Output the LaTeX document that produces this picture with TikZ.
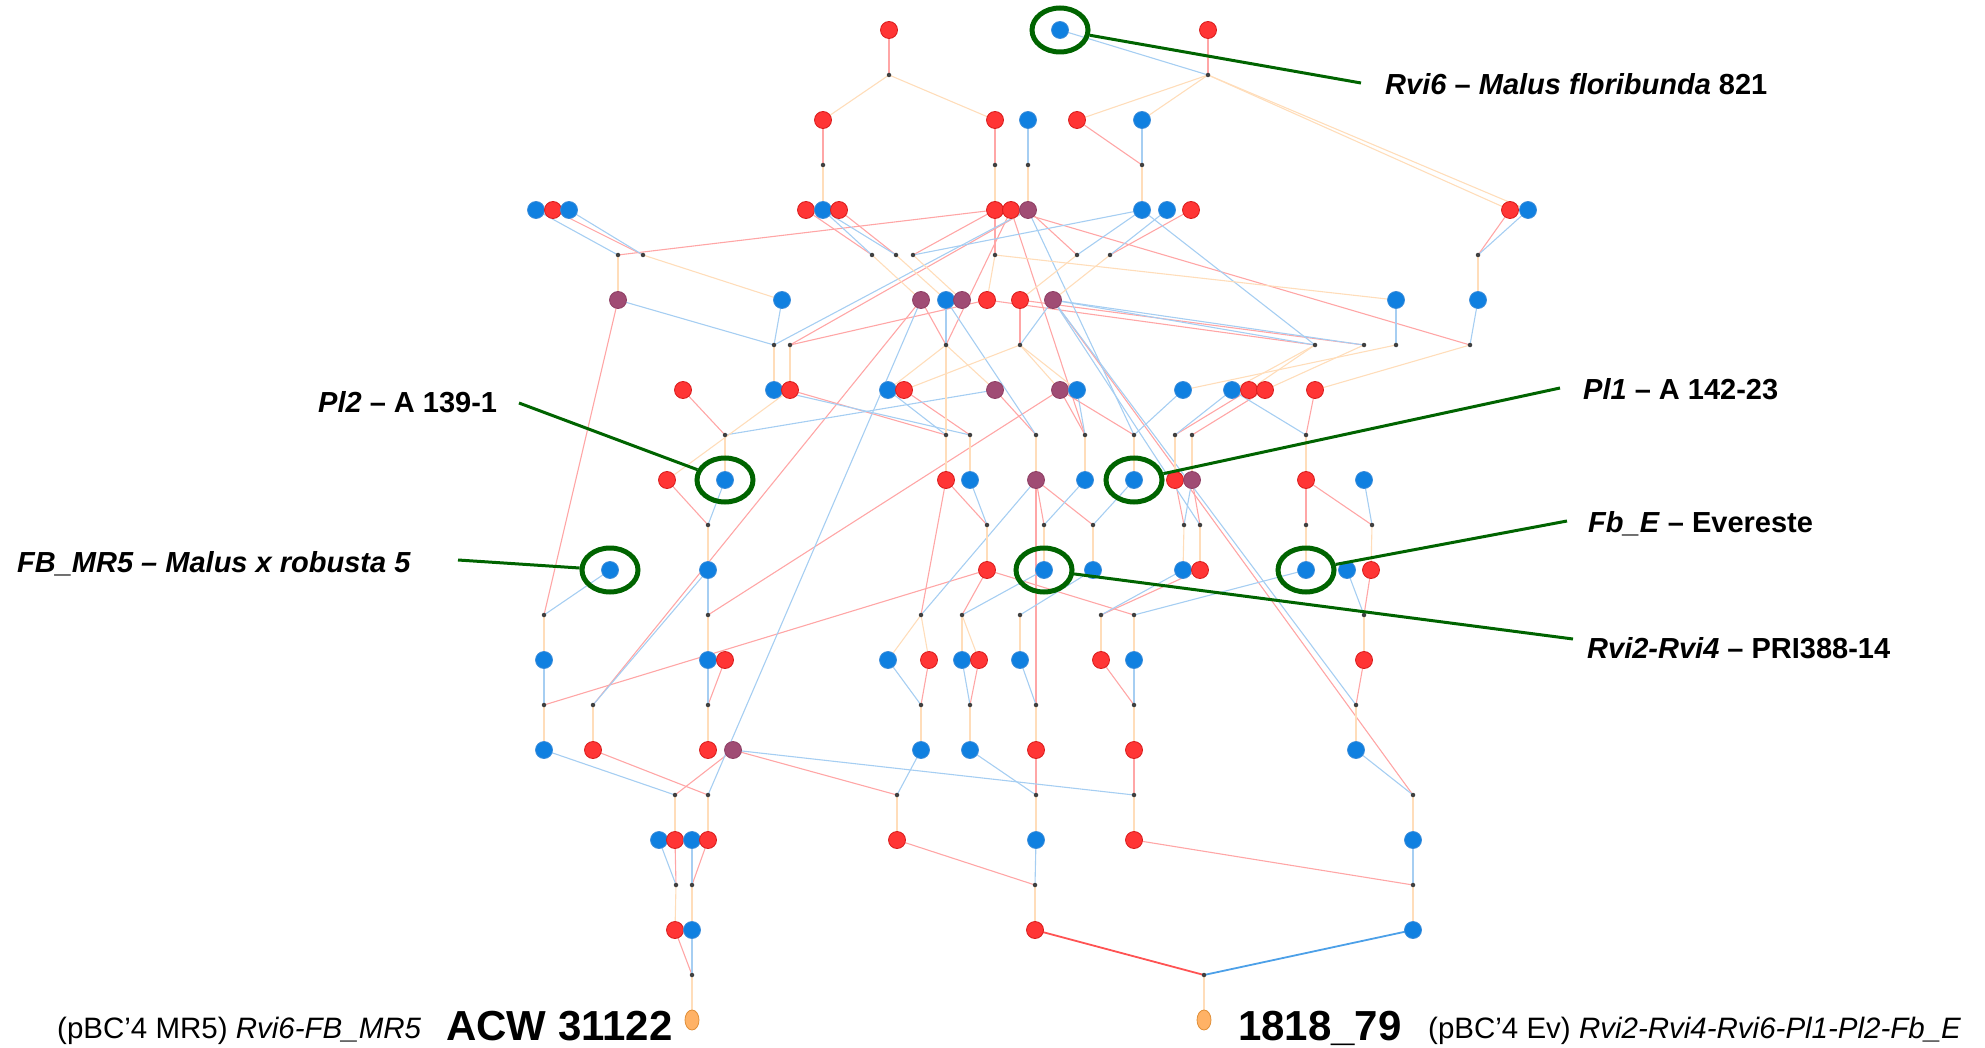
\documentclass[tikz,border=0pt]{standalone}
\usepackage{fontspec}
\setmainfont{Liberation Sans}
\usetikzlibrary{shapes.geometric}
\pgfdeclarelayer{background}
\pgfsetlayers{background,main}
\definecolor{cR}{HTML}{FF3535}
\definecolor{cRd}{HTML}{D81C1C}
\definecolor{cB}{HTML}{1080E0}
\definecolor{cBd}{HTML}{3A8CDA}
\definecolor{cP}{HTML}{A04C74}
\definecolor{cPd}{HTML}{8E3F64}
\definecolor{cO}{HTML}{FFB266}
\definecolor{cOd}{HTML}{E0903A}
\definecolor{cDot}{HTML}{404040}
\definecolor{cG}{HTML}{006400}
\definecolor{cRe}{HTML}{FFA6A6}
\definecolor{cBe}{HTML}{A6CEF2}
\definecolor{cOe}{HTML}{FFDDBA}
\begin{document}
\begin{tikzpicture}[x=1pt,y=-1pt,
  rn/.style={circle,fill=cR,draw=cRd,line width=0.8pt,minimum size=17pt,inner sep=0pt},
  bn/.style={circle,fill=cB,draw=cBd,line width=0.8pt,minimum size=17pt,inner sep=0pt},
  pn/.style={circle,fill=cP,draw=cPd,line width=0.8pt,minimum size=17pt,inner sep=0pt},
  on/.style={ellipse,fill=cO,draw=cOd,line width=0.8pt,minimum width=14pt,minimum height=20pt,inner sep=0pt},
  dt/.style={circle,fill=cDot,minimum size=4.5pt,inner sep=0pt},
  gc/.style={ellipse,draw=cG,line width=5pt,minimum width=56pt,minimum height=44pt,inner sep=0pt},
  gl/.style={draw=cG,line width=3pt},
  er/.style={draw=cRe,line width=1.1pt},
  eb/.style={draw=cBe,line width=1.1pt},
  eo/.style={draw=cOe,line width=1.1pt},
  lab/.style={inner sep=0pt,anchor=base west,font=\fontsize{29}{34}\selectfont\bfseries},
  sml/.style={inner sep=0pt,anchor=base west,font=\fontsize{29.5}{34}\selectfont},
  big/.style={inner sep=0pt,anchor=base west,font=\fontsize{42}{48}\selectfont\bfseries}]
\useasboundingbox (0,0) rectangle (1985,1048);
% ---------- nodes ----------
\foreach \x/\s in {889/rn,1060/bn,1208/rn} \node[\s] (n0-\x) at (\x,30) {};
\foreach \x/\s in {823/rn,995/rn,1028/bn,1077/rn,1142/bn} \node[\s] (n1-\x) at (\x,120) {};
\foreach \x/\s in {536/bn,553/rn,569/bn,806/rn,823/bn,839/rn,995/rn,1011/rn,1028/pn,1142/bn,1167/bn,1191/rn,1510/rn,1528/bn} \node[\s] (n2-\x) at (\x,210) {};
\foreach \x/\s in {618/pn,782/bn,921/pn,946/bn,962/pn,987/rn,1020/rn,1053/pn,1396/bn,1478/bn} \node[\s] (n3-\x) at (\x,300) {};
\foreach \x/\s in {683/rn,774/bn,790/rn,888/bn,904/rn,995/pn,1060/pn,1077/bn,1183/bn,1232/bn,1249/rn,1265/rn,1315/rn} \node[\s] (n4-\x) at (\x,390) {};
\foreach \x/\s in {667/rn,725/bn,946/rn,970/bn,1036/pn,1085/bn,1134/bn,1175/rn,1192/pn,1306/rn,1364/bn} \node[\s] (n5-\x) at (\x,480) {};
\foreach \x/\s in {610/bn,708/bn,987/rn,1044/bn,1093/bn,1183/bn,1200/rn,1306/bn,1347/bn,1371/rn} \node[\s] (n6-\x) at (\x,570) {};
\foreach \x/\s in {544/bn,708/bn,725/rn,888/bn,929/rn,962/bn,979/rn,1020/bn,1101/rn,1134/bn,1364/rn} \node[\s] (n7-\x) at (\x,660) {};
\foreach \x/\s in {544/bn,593/rn,708/rn,733/pn,921/bn,970/bn,1036/rn,1134/rn,1356/bn} \node[\s] (n8-\x) at (\x,750) {};
\foreach \x/\s in {659/bn,675/rn,692/bn,708/rn,897/rn,1036/bn,1134/rn,1413/bn} \node[\s] (n9-\x) at (\x,840) {};
\foreach \x/\s in {675/rn,692/bn,1035/rn,1413/bn} \node[\s] (n10-\x) at (\x,930) {};
\foreach \x in {692,1204} \node[on] (n11-\x) at (\x,1020) {};
% ---------- dots ----------
\foreach \x in {889,1208} \node[dt] (d0-\x) at (\x,75) {};
\foreach \x in {823,995,1028,1142} \node[dt] (d1-\x) at (\x,165) {};
\foreach \x in {618,643,872,896,913,995,1077,1110,1478} \node[dt] (d2-\x) at (\x,255) {};
\foreach \x in {774,790,946,1020,1315,1364,1396,1470} \node[dt] (d3-\x) at (\x,345) {};
\foreach \x in {725,946,970,1036,1085,1134,1175,1192,1306} \node[dt] (d4-\x) at (\x,435) {};
\foreach \x in {708,987,1044,1093,1184,1200,1306,1372} \node[dt] (d5-\x) at (\x,525) {};
\foreach \x in {544,708,921,962,1020,1101,1134,1364} \node[dt] (d6-\x) at (\x,615) {};
\foreach \x in {544,593,708,921,970,1036,1134,1356} \node[dt] (d7-\x) at (\x,705) {};
\foreach \x in {675,708,897,1036,1134,1413} \node[dt] (d8-\x) at (\x,795) {};
\foreach \x in {676,692,1035,1413} \node[dt] (d9-\x) at (\x,885) {};
\foreach \x in {692,1204} \node[dt] (d10-\x) at (\x,975) {};
% ---------- edges ----------
\begin{pgfonlayer}{background}
\foreach \a/\b in {n0-889/d0-889,n0-1208/d0-1208,
 n1-823/d1-823,n1-995/d1-995,n1-1077/d1-1142,
 n2-995/d2-618,n2-553/d2-643,n2-806/d2-872,n2-839/d2-896,n2-995/d2-913,n2-995/d2-995,n2-1028/d2-1077,n2-1191/d2-1110,n2-1510/d2-1478,
 n2-1028/d3-790,n2-1011/d3-1470,n3-987/d3-790,n3-921/d3-946,n3-1020/d3-1020,n3-987/d3-1315,n3-1020/d3-1364,n2-1011/d3-946,n2-1011/d4-1085,
 n4-683/d4-725,n4-790/d4-946,n4-904/d4-970,n4-995/d4-1036,n4-1060/d4-1085,n4-1060/d4-1134,n4-1249/d4-1175,n4-1265/d4-1192,n4-1315/d4-1306,
 n5-667/d5-708,n5-946/d5-987,n5-1036/d5-1044,n5-1036/d5-1093,n5-1175/d5-1184,n5-1192/d5-1200,n5-1306/d5-1306,n5-1306/d5-1372,
 n3-618/d6-544,n4-1060/d6-708,n5-946/d6-921,n6-987/d6-962,n6-987/d6-1134,n6-1200/d6-1101,n6-1371/d6-1364,
 n6-987/d7-544,n3-921/d7-593,n7-725/d7-708,n7-929/d7-921,n7-979/d7-970,n5-1036/d7-1036,n7-1101/d7-1134,n7-1364/d7-1356,
 n8-733/d8-675,n8-593/d8-708,n8-733/d8-897,n8-1036/d8-1036,n8-1134/d8-1134,n3-1053/d8-1413,
 n9-675/d9-676,n9-708/d9-692,n9-897/d9-1035,n9-1134/d9-1413,n10-675/d10-692}
 \draw[er] (\a.center) -- (\b.center);
\foreach \a/\b in {n0-1060/d0-1208,
 n1-1028/d1-1028,n1-1142/d1-1142,
 n2-536/d2-618,n2-569/d2-643,n2-823/d2-872,n2-823/d2-896,n2-1142/d2-913,n2-1142/d2-1077,n2-1167/d2-1110,n2-1528/d2-1478,
 n3-618/d3-774,n3-782/d3-774,n3-946/d3-946,n3-1053/d3-1020,n3-1053/d3-1315,n3-1396/d3-1396,n3-1478/d3-1470,n3-1053/d3-1364,n2-1142/d3-1315,n2-1028/d3-774,n2-1028/d4-1134,
 n4-995/d4-725,n4-888/d4-946,n4-774/d4-970,n3-946/d4-1036,n4-1077/d4-1085,n4-1183/d4-1134,n4-1232/d4-1175,n4-1232/d4-1306,
 n5-725/d5-708,n5-970/d5-987,n5-1085/d5-1044,n5-1134/d5-1093,n5-1192/d5-1184,n3-1053/d5-1200,n5-1364/d5-1372,
 n6-610/d6-544,n6-708/d6-708,n5-1036/d6-921,n6-1044/d6-962,n6-1093/d6-1020,n6-1183/d6-1101,n6-1306/d6-1134,n6-1347/d6-1364,
 n7-544/d7-544,n6-708/d7-593,n7-708/d7-708,n7-888/d7-921,n7-962/d7-970,n7-1020/d7-1036,n7-1134/d7-1134,n3-1053/d7-1356,
 n8-544/d8-675,n3-921/d8-708,n8-921/d8-897,n8-970/d8-1036,n8-733/d8-1134,n8-1356/d8-1413,
 n9-659/d9-676,n9-692/d9-692,n9-1036/d9-1035,n9-1413/d9-1413,n10-692/d10-692}
 \draw[eb] (\a.center) -- (\b.center);
\foreach \a/\b in {d0-889/n1-823,d0-889/n1-995,d0-1208/n1-1077,d0-1208/n1-1142,d0-1208/n2-1510,d0-1208/n2-1528,
 d1-823/n2-823,d1-995/n2-995,d1-1028/n2-1028,d1-1142/n2-1142,
 d2-618/n3-618,d2-643/n3-782,d2-872/n3-921,d2-896/n3-946,d2-913/n3-962,d2-995/n3-1396,d2-995/n3-987,d2-1077/n3-1020,d2-1110/n3-1053,d2-1478/n3-1478,
 d3-774/n4-774,d3-790/n4-790,d3-946/n4-888,d3-946/n4-995,d3-946/n5-946,d3-1020/n4-904,d3-1020/n4-1060,d3-1020/n4-1077,d3-1315/n4-1232,d3-1315/n4-1249,d3-1364/n4-1265,d3-1396/n4-1183,d3-1470/n4-1315,
 n4-790/n5-667,
 d4-725/n5-725,d4-946/n5-946,d4-970/n5-970,d4-1036/n5-1036,d4-1085/n5-1085,d4-1134/n5-1134,d4-1175/n5-1175,d4-1192/n5-1192,d4-1306/n5-1306,
 d5-708/n6-708,d5-987/n6-987,d5-1044/n6-1044,d5-1093/n6-1093,d5-1184/n6-1183,d5-1200/n6-1200,d5-1306/n6-1306,d5-1372/n6-1371,
 d6-544/n7-544,d6-708/n7-708,d6-921/n7-888,d6-921/n7-929,d6-962/n7-962,d6-962/n7-979,d6-1020/n7-1020,d6-1101/n7-1101,d6-1134/n7-1134,d6-1364/n7-1364,
 d7-544/n8-544,d7-593/n8-593,d7-708/n8-708,d7-921/n8-921,d7-970/n8-970,d7-1036/n8-1036,d7-1134/n8-1134,d7-1356/n8-1356,
 d8-675/n9-675,d8-708/n9-708,d8-897/n9-897,d8-1036/n9-1036,d8-1134/n9-1134,d8-1413/n9-1413,
 d9-676/n10-675,d9-692/n10-692,d9-1035/n10-1035,d9-1413/n10-1413,
 d10-692/n11-692,d10-1204/n11-1204}
 \draw[eo] (\a.center) -- (\b.center);
\draw[draw=cR!85!white,line width=1.8pt] (n10-1035.center) -- (d10-1204.center);
\draw[draw=cB!75!white,line width=1.8pt] (n10-1413.center) -- (d10-1204.center);
\end{pgfonlayer}
% ---------- highlight circles and labels ----------
\node[gc] (g1) at (n0-1060) {};
\node[gc] (g2) at (n5-725) {};
\node[gc] (g3) at (n6-610) {};
\node[gc] (g4) at (n5-1134) {};
\node[gc] (g5) at (n6-1306) {};
\node[gc] (g6) at (n6-1044) {};
\coordinate (t1) at (1361,83);
\coordinate (t2) at (519,403);
\coordinate (t3) at (458,560);
\coordinate (t4) at (1560,388);
\coordinate (t5) at (1567,521);
\coordinate (t6) at (1573,639);
\draw[gl] (g1) -- (t1);
\draw[gl] (g2) -- (t2);
\draw[gl] (g3) -- (t3);
\draw[gl] (g4) -- (t4);
\draw[gl] (g5) -- (t5);
\draw[gl] (g6) -- (t6);
\node[lab] (L1) at (1385,95) {\textit{Rvi6} – \textit{Malus floribunda} 821};
\node[lab] (L2) at (318,412) {\textit{Pl2} – A 139-1};
\node[lab] (L3) at (17,572) {\textit{FB\_MR5 – Malus x robusta 5}};
\node[lab] (L4) at (1583,399) {\textit{Pl1} – A 142-23};
\node[lab] (L5) at (1588,532) {\textit{Fb\_E} – Evereste};
\node[lab] (L6) at (1587,658) {\textit{Rvi2-Rvi4} – PRI388-14};
\node[sml] (B1) at (57,1038) {(pBC’4 MR5) \textit{Rvi6-FB\_MR5}};
\node[big] (B2) at (446,1040) {ACW 31122};
\node[big] (B3) at (1238,1040) {1818\_79};
\node[sml] (B4) at (1428,1038) {(pBC’4 Ev) \textit{Rvi2-Rvi4-Rvi6-Pl1-Pl2-Fb\_E}};
\end{tikzpicture}
\end{document}
